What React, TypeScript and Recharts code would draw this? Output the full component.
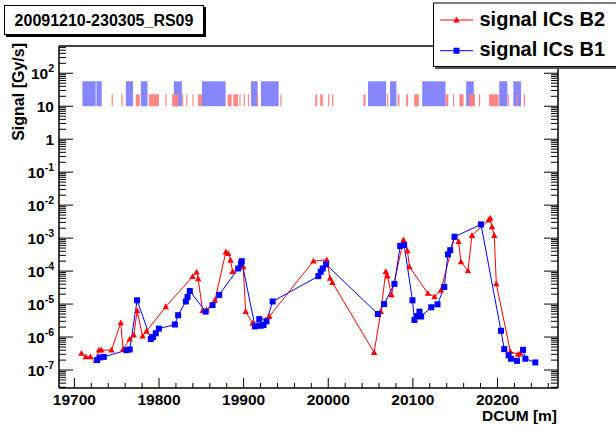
import React from "react";
import { ComposedChart, Line, XAxis, YAxis, ReferenceArea } from "recharts";

const FONT = '"Liberation Sans", Arial, Helvetica, sans-serif';

// signal ICs B2 (red triangles)
const b2Dcum = [
  19708.3, 19713.4, 19718.9, 19725.2, 19729.1, 19732, 19743.8, 19754.8, 19757.5, 19765.4,
  19770.2, 19774.1, 19780.5, 19785.2, 19808, 19839.6, 19844.4, 19846.3, 19851.5, 19856.2,
  19862.1, 19866, 19879, 19881.8, 19884.6, 19887, 19899.5, 19902.4, 19910.7, 19930.3,
  19982.4, 19998.2, 20002.1, 20004.9, 20054.2, 20062.1, 20068, 20070, 20074.7, 20088.9,
  20093.6, 20096, 20117.8, 20125.6, 20133.1, 20149.2, 20154, 20156.8, 20165.1, 20169.8,
  20189.5, 20191.5, 20193.5, 20196.2, 20198.6, 20215.2, 20224.3, 20227,
];
const b2Signal = [
  3.2e-7, 2.5e-7, 2.5e-7, 2.0e-7, 4.0e-7, 4.0e-7, 4.0e-7, 2.7e-6, 4.2e-7, 8.7e-7,
  1.15e-6, 6.3e-6, 1.07e-6, 1.5e-6, 8.3e-6, 6.8e-5, 9.3e-5, 5.8e-5, 6.3e-6, 6.6e-6,
  9.3e-6, 1.3e-5, 3.8e-4, 3.4e-4, 2.1e-4, 9.6e-5, 1.35e-4, 5.9e-6, 2.6e-6, 4.2e-6,
  2.0e-4, 2.2e-4, 6.0e-5, 4.5e-5, 3.4e-7, 5.9e-6, 9.6e-5, 7.0e-5, 1.9e-5, 8.8e-4,
  4.1e-4, 1.35e-4, 2.1e-5, 1.65e-5, 2.6e-5, 1.05e-3, 7.8e-4, 1.9e-4, 1.02e-4, 1.2e-3,
  3.5e-3, 4.0e-3, 2.2e-3, 1.2e-3, 4.1e-5, 3.6e-7, 3.0e-7, 3.2e-7,
];

// signal ICs B1 (blue squares)
const b1Dcum = [
  19726.8, 19730, 19734.7, 19761.5, 19765.4, 19774.1, 19790.3, 19793, 19796.2, 19799.8,
  19818.7, 19822.6, 19831.7, 19833.7, 19836.4, 19855, 19863.3, 19871.1, 19893.6, 19896.8,
  19897.8, 19913.4, 19918.5, 19920.1, 19923.5, 19927, 19934.3, 19988.3, 19991.1, 19993.5,
  19997.4, 20058.6, 20066, 20078.2, 20085, 20089.7, 20099.5, 20101.9, 20104.7, 20107.8,
  20109.8, 20121.7, 20129.1, 20137.1, 20141.4, 20144.1, 20149.2, 20180.5, 20204.1, 20208,
  20213.1, 20215.9, 20223, 20230.2, 20232.9, 20244.7,
];
const b1Signal = [
  2.0e-7, 2.4e-7, 2.5e-7, 4.0e-7, 4.2e-7, 1.3e-5, 8.7e-7, 1.0e-6, 1.3e-6, 1.8e-6,
  2.4e-6, 4.6e-6, 1.2e-5, 1.65e-5, 2.5e-5, 5.9e-6, 9.3e-6, 1.9e-5, 1.2e-4, 1.7e-4,
  2.0e-4, 2.1e-6, 3.5e-6, 2.2e-6, 2.3e-6, 3.0e-6, 1.2e-5, 7.0e-5, 9.6e-5, 1.2e-4,
  1.6e-4, 5.0e-6, 1.0e-5, 4.1e-5, 5.8e-4, 6.2e-4, 1.3e-5, 3.3e-6, 4.3e-6, 5.9e-6,
  4.2e-6, 8.0e-6, 9.8e-6, 3.3e-5, 3.2e-4, 4.3e-4, 1.1e-3, 2.6e-3, 1.55e-6, 4.3e-7,
  2.8e-7, 2.2e-7, 1.9e-7, 4.1e-7, 2.2e-7, 1.7e-7,
];

// monitor position bands drawn at the top of the frame [from, to] in DCUM
const b1Bands = [
  [19709.5, 19725.2], [19726, 19732.3], [19760.8, 19769.3], [19778.5, 19786.4],
  [19817.5, 19827], [19850.8, 19878.7], [19908.6, 19916.5], [19920.5, 19941.4],
  [20047, 20068.4], [20073, 20080.5], [20111, 20138.6], [20163, 20172],
  [20202, 20211.6], [20218.7, 20227.8],
];
const b2Bands = [
  [19744, 19745.5], [19755.5, 19757], [19772.5, 19777.3], [19788, 19800], [19807.5, 19809],
  [19815.5, 19823], [19827.2, 19828.5], [19832, 19833.4], [19839.4, 19840.8], [19846, 19850.7],
  [19881, 19885.8], [19887.7, 19893.3], [19895, 19896.4], [19900, 19901.5], [19905, 19906.4],
  [19915.5, 19917], [19943.3, 19944.8], [19984.7, 19987], [19990.5, 19993.5], [19999.8, 20001.3],
  [20004.5, 20006], [20041.5, 20044], [20069.3, 20070.8], [20081.8, 20084], [20092, 20094.4],
  [20101.5, 20107], [20138.6, 20141.8], [20147.3, 20148.8], [20155, 20159.9], [20166.3, 20173.4],
  [20178, 20179.5], [20190, 20201.3], [20212, 20213.5], [20222.3, 20223.8], [20231, 20232.5],
];
const b1BandRange = [10, 57];
const b2BandRange = [10, 23];

const xMajorTicks = [19700, 19800, 19900, 20000, 20100, 20200];
const xMinorStep = 20;
const yMajorTicks = [1e-7, 1e-6, 1e-5, 1e-4, 1e-3, 1e-2, 1e-1, 1, 10, 100];

const X_DOMAIN: [number, number] = [19681.8, 20271.5];
const Y_DOMAIN: [number, number] = [2.85e-8, 670];

const b2Data = b2Dcum.map((x, i) => ({ x, y: b2Signal[i] }));
const b1Data = b1Dcum.map((x, i) => ({ x, y: b1Signal[i] }));

const xTicks: number[] = [];
for (let v = xMajorTicks[0]; v <= X_DOMAIN[1]; v += xMinorStep) xTicks.push(v);

const yTicks: number[] = [];
[1e-8, ...yMajorTicks].forEach((d) => {
  for (let m = 1; m <= 9; m++) {
    const v = m * d;
    if (v >= Y_DOMAIN[0] && v <= Y_DOMAIN[1]) yTicks.push(v);
  }
});

const isMajorY = (v: number) => yMajorTicks.some((t) => Math.abs(t - v) / t < 1e-6);
const isMajorX = (v: number) => xMajorTicks.includes(v);

const series = [
  { name: "signal ICs B2", color: "#ff0000", marker: "tri" },
  { name: "signal ICs B1", color: "#0000ff", marker: "sq" },
];

const LeftTick = (props: any) => {
  const { x, y, payload } = props;
  const v = payload.value;
  const major = isMajorY(v);
  const e = Math.round(Math.log10(v));
  return (
    <g>
      <line x1={x} x2={x + (major ? 14 : 7)} y1={y} y2={y} stroke="#000" />
      {major && (
        <text x={x - 5} y={y + 6} textAnchor="end" fontFamily={FONT} fontWeight="bold" fontSize={15.5} fill="#000">
          {e === 0 ? "1" : e === 1 ? "10" : (
            <>
              10<tspan dy={-7} fontSize={10.5}>{e}</tspan>
            </>
          )}
        </text>
      )}
    </g>
  );
};

const RightTick = (props: any) => {
  const { x, y, payload } = props;
  const major = isMajorY(payload.value);
  return <line x1={x} x2={x - (major ? 14 : 7)} y1={y} y2={y} stroke="#000" />;
};

const BottomTick = (props: any) => {
  const { x, y, payload } = props;
  const major = isMajorX(payload.value);
  return (
    <g>
      <line x1={x} x2={x} y1={y} y2={y - (major ? 10 : 5)} stroke="#000" />
      {major && (
        <text x={x} y={y + 16.5} textAnchor="middle" fontFamily={FONT} fontWeight="bold" fontSize={15.5} fill="#000">
          {payload.value}
        </text>
      )}
    </g>
  );
};

const TopTick = (props: any) => {
  const { x, y, payload } = props;
  const major = isMajorX(payload.value);
  return <line x1={x} x2={x} y1={y} y2={y + (major ? 10 : 5)} stroke="#000" />;
};

const triangle = (cx: number, cy: number, color: string, key?: any) => (
  <polygon key={key} points={`${cx - 3.2},${cy + 2.4} ${cx + 3.2},${cy + 2.4} ${cx},${cy - 3.4}`} fill={color} />
);
const square = (cx: number, cy: number, color: string, key?: any) => (
  <rect key={key} x={cx - 3} y={cy - 3} width={6} height={6} fill={color} />
);

const renderTri = (p: any) => (p.cx == null ? <g key={p.index} /> : triangle(p.cx, p.cy, "#ff0000", p.index));
const renderSq = (p: any) => (p.cx == null ? <g key={p.index} /> : square(p.cx, p.cy, "#0000ff", p.index));

const frame = { stroke: "#000", strokeWidth: 1.5 };

export default function App() {
  return (
    <div style={{ position: "absolute", left: 0, top: 0, width: 616, height: 430, background: "#fff" }}>
      <ComposedChart width={616} height={430} margin={{ top: 16, right: 0, bottom: 0, left: 0 }}>
        <XAxis
          xAxisId="b"
          dataKey="x"
          type="number"
          domain={X_DOMAIN}
          allowDataOverflow
          ticks={xTicks}
          interval={0}
          tickSize={0}
          tickMargin={0}
          tickLine={false}
          axisLine={frame}
          tick={<BottomTick />}
          height={42}
        />
        <XAxis
          xAxisId="t"
          orientation="top"
          type="number"
          domain={X_DOMAIN}
          allowDataOverflow
          ticks={xTicks}
          interval={0}
          tickSize={0}
          tickMargin={0}
          tickLine={false}
          axisLine={frame}
          tick={<TopTick />}
          height={30}
        />
        <YAxis
          yAxisId="l"
          type="number"
          scale="log"
          domain={Y_DOMAIN}
          allowDataOverflow
          ticks={yTicks}
          interval={0}
          tickSize={0}
          tickMargin={0}
          tickLine={false}
          axisLine={frame}
          tick={<LeftTick />}
          width={59}
        />
        <YAxis
          yAxisId="r"
          orientation="right"
          type="number"
          scale="log"
          domain={Y_DOMAIN}
          allowDataOverflow
          ticks={yTicks}
          interval={0}
          tickSize={0}
          tickMargin={0}
          tickLine={false}
          axisLine={frame}
          tick={<RightTick />}
          width={58}
        />
        {b1Bands.map(([a, b], i) => (
          <ReferenceArea
            key={`b1-${i}`}
            xAxisId="b"
            yAxisId="l"
            x1={a}
            x2={b}
            y1={b1BandRange[0]}
            y2={b1BandRange[1]}
            fill="#8080ff"
            fillOpacity={0.95}
            stroke="none"
          />
        ))}
        {b2Bands.map(([a, b], i) => (
          <ReferenceArea
            key={`b2-${i}`}
            xAxisId="b"
            yAxisId="l"
            x1={a}
            x2={b}
            y1={b2BandRange[0]}
            y2={b2BandRange[1]}
            fill="#ff8080"
            fillOpacity={0.95}
            stroke="none"
          />
        ))}
        <Line
          xAxisId="b"
          yAxisId="l"
          data={b2Data}
          dataKey="y"
          name={series[0].name}
          type="linear"
          stroke="#ff0000"
          strokeWidth={1}
          dot={renderTri}
          activeDot={false}
          isAnimationActive={false}
        />
        <Line
          xAxisId="b"
          yAxisId="l"
          data={b1Data}
          dataKey="y"
          name={series[1].name}
          type="linear"
          stroke="#0000ff"
          strokeWidth={1}
          dot={renderSq}
          activeDot={false}
          isAnimationActive={false}
        />
      </ComposedChart>
      <svg width={616} height={430} style={{ position: "absolute", left: 0, top: 0, pointerEvents: "none" }}>
        {/* axis titles */}
        <text
          transform="translate(23.5,43) rotate(-90)"
          textAnchor="end"
          fontFamily={FONT}
          fontWeight="bold"
          fontSize={16}
          fill="#000"
        >
          Signal [Gy/s]
        </text>
        <text x={557} y={421} textAnchor="end" fontFamily={FONT} fontWeight="bold" fontSize={15.5} fill="#000">
          DCUM [m]
        </text>
        {/* title box */}
        <rect x={6} y={7} width={200} height={30} fill="#000" />
        <rect x={4.5} y={5.5} width={199} height={29} fill="#fff" stroke="#000" />
        <text x={104} y={26} textAnchor="middle" fontFamily={FONT} fontWeight="bold" fontSize={16} fill="#000">
          20091210-230305_RS09
        </text>
        {/* legend */}
        <rect x={435} y={5} width={190} height={64} fill="#555" />
        <rect x={433.5} y={3} width={190} height={63.5} fill="#fff" stroke="#000" />
        {series.map((s, i) => {
          const cy = 20 + i * 30.7;
          return (
            <g key={s.name}>
              <line x1={440} x2={473} y1={cy} y2={cy} stroke={s.color} strokeWidth={1} />
              {s.marker === "tri" ? triangle(456.5, cy, s.color) : square(456.5, cy, s.color)}
              <text x={479.5} y={cy + 5.5} fontFamily={FONT} fontWeight="bold" fontSize={20} fill="#000">
                {s.name}
              </text>
            </g>
          );
        })}
      </svg>
    </div>
  );
}
